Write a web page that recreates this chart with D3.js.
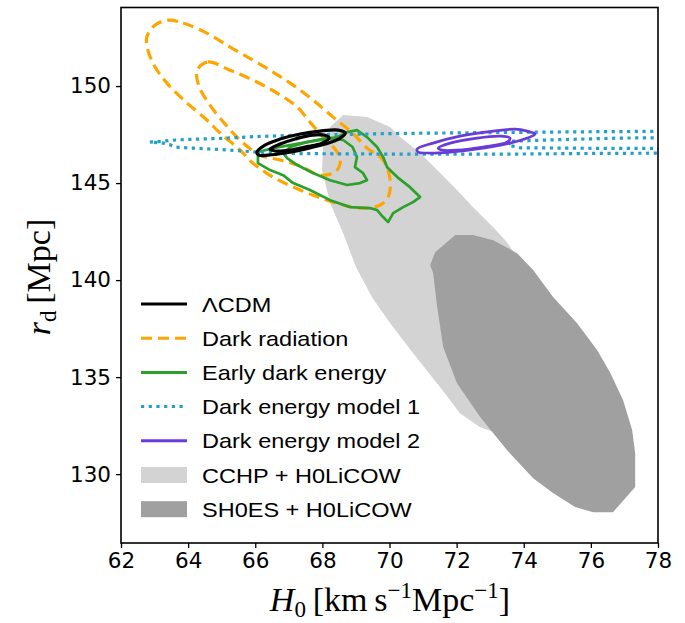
<!DOCTYPE html>
<html><head><meta charset="utf-8">
<script src="https://cdn.jsdelivr.net/npm/d3@7"></script>
<style>body{margin:0;background:#fff}</style>
</head><body>
<svg id="c" width="685" height="623" xmlns="http://www.w3.org/2000/svg"></svg>
<script>
// ---------- data (H0 [km/s/Mpc], r_d [Mpc]) ----------
const xTicks = [62,64,66,68,70,72,74,76,78];
const yTicks = [130,135,140,145,150];
const xDomain = [62,78];
const yDomain = [126.45,154.05];

const cchpH0licow = [[68.62,148.51],[69.33,148.40],[70.02,147.89],[70.32,147.37],[70.91,146.55],[71.51,145.52],[72.01,144.64],[72.49,143.76],[73.09,142.73],[73.45,142.06],[74.19,140.26],[75.08,138.45],[75.98,136.39],[76.28,134.85],[75.98,132.78],[75.08,131.75],[73.21,132.11],[72.70,132.42],[72.10,133.14],[71.51,134.48],[70.70,136.24],[70.02,137.78],[69.48,139.12],[69.00,140.67],[68.62,142.42],[68.23,143.97],[67.99,145.67],[68.02,146.86],[68.23,147.89]];
const sh0esH0licow = [[71.96,142.32],[72.49,142.32],[73.09,142.06],[73.80,141.39],[74.28,140.52],[74.88,139.12],[75.59,137.78],[76.19,136.39],[76.58,135.21],[76.96,133.81],[77.23,132.27],[77.32,131.08],[77.32,129.33],[76.66,128.04],[76.07,128.04],[75.53,128.30],[74.88,129.02],[74.28,129.79],[73.50,131.24],[72.70,132.94],[72.01,134.69],[71.60,136.55],[71.42,138.61],[71.30,140.36],[71.21,140.77],[71.36,141.44]];

const darkRadOuter = [[63.40,153.40],[63.85,153.25],[64.56,152.73],[65.25,152.01],[65.93,151.34],[66.53,150.72],[67.13,150.05],[67.72,149.28],[68.32,148.40],[68.90,147.58],[69.33,146.80],[69.81,146.19],[70.02,145.15],[69.96,144.28],[69.72,143.87],[69.33,143.71],[68.90,143.76],[68.14,144.12],[67.34,144.64],[66.53,145.31],[65.93,146.03],[65.55,146.70],[64.95,147.58],[64.56,148.25],[63.97,149.12],[63.37,150.15],[63.01,151.00],[62.80,151.86],[62.77,152.53],[63.01,153.14]];
const darkRadInner = [[64.27,150.82],[64.59,151.24],[65.25,150.82],[65.93,150.31],[66.65,149.64],[67.25,148.92],[67.63,148.14],[68.02,147.37],[68.44,146.60],[68.53,146.03],[68.38,145.57],[67.93,145.41],[67.34,145.88],[66.74,146.19],[66.14,146.44],[65.61,147.11],[65.13,147.99],[64.65,149.02],[64.32,150.00]];

const edeOuter = [[66.08,146.60],[66.08,146.03],[66.44,145.67],[66.83,145.41],[67.13,145.00],[67.63,144.64],[68.23,144.12],[68.83,143.76],[69.42,143.71],[69.63,143.61],[69.81,143.25],[69.96,142.99],[70.11,143.45],[70.41,143.76],[70.70,144.02],[70.91,144.28],[70.61,144.79],[70.23,145.31],[69.93,145.82],[69.81,146.34],[69.63,146.86],[69.33,147.37],[69.03,147.73],[68.74,147.63],[68.44,147.37],[67.54,147.11],[66.53,146.80]];
const edeInner = [[66.83,146.55],[67.04,146.86],[67.54,147.11],[68.14,147.32],[68.62,147.22],[68.90,146.86],[69.03,146.34],[68.97,145.82],[69.21,145.52],[69.33,145.15],[69.12,145.00],[68.74,144.90],[68.23,145.15],[67.72,145.52],[67.25,145.93],[66.95,146.29]];

const de1Outer = [[62.86,147.11],[63.25,147.16],[63.61,147.22],[63.97,147.25],[64.95,147.30],[65.93,147.39],[67.34,147.47],[70.32,147.56],[73.30,147.61],[76.28,147.65],[79.26,147.68],[79.26,146.55],[76.28,146.53],[73.30,146.49],[70.32,146.49],[67.34,146.52],[66.05,146.60],[64.95,146.73],[63.97,146.82],[63.61,146.86],[63.46,146.98],[63.25,147.06]];
const de1Inner = [[73.65,147.16],[75.08,147.24],[76.87,147.32],[79.26,147.35],[79.26,146.79],[76.28,146.79],[73.89,146.82],[73.53,146.96]];

const de2Outer = [[70.82,146.75],[71.30,147.06],[72.10,147.42],[73.09,147.68],[73.74,147.78],[74.10,147.68],[74.34,147.53],[74.10,147.32],[73.59,147.06],[72.79,146.80],[71.81,146.60],[71.12,146.55],[70.85,146.60]];
const de2Inner = [[71.45,146.80],[71.81,147.06],[72.61,147.32],[73.30,147.42],[73.59,147.32],[73.50,147.11],[72.79,146.86],[72.01,146.70],[71.57,146.70]];

const lcdmOuter = [[66.05,146.60],[66.29,146.96],[66.74,147.27],[67.34,147.53],[67.93,147.68],[68.47,147.73],[68.68,147.58],[68.53,147.32],[68.08,147.01],[67.48,146.75],[66.89,146.55],[66.38,146.44],[66.11,146.44]];
const lcdmInner = [[66.44,146.75],[66.74,147.01],[67.19,147.27],[67.69,147.47],[68.08,147.47],[68.20,147.32],[67.99,147.06],[67.48,146.86],[67.04,146.70],[66.62,146.65]];

const legendLabels = ["\u039BCDM","Dark radiation","Early dark energy","Dark energy model 1","Dark energy model 2","CCHP + H0LiCOW","SH0ES + H0LiCOW"];
const colors = {lcdm:"#000000", dr:"#ffa500", ede:"#2ca02c", de1:"#22a0cc", de2:"#6a3bd8", cchp:"#d3d3d3", shoes:"#a0a0a0"};

// ---------- drawing ----------
const svg = d3.select("#c");
const L=121, R=658, T=7.5, B=543;
const x = d3.scaleLinear().domain(xDomain).range([L,R]);
const y = d3.scaleLinear().domain(yDomain).range([B,T]);

svg.append("defs").append("clipPath").attr("id","clip")
  .append("rect").attr("x",L).attr("y",T).attr("width",R-L).attr("height",B-T);
const g = svg.append("g").attr("clip-path","url(#clip)");

const lin = d3.line().x(d=>x(d[0])).y(d=>y(d[1])).curve(d3.curveLinearClosed);
const smooth = d3.line().x(d=>x(d[0])).y(d=>y(d[1])).curve(d3.curveCatmullRomClosed.alpha(0.5));

g.append("path").attr("d",lin(cchpH0licow)).attr("fill",colors.cchp);
g.append("path").attr("d",lin(sh0esH0licow)).attr("fill",colors.shoes);

function contour(data, color, dash, width, gen){
  g.append("path").attr("d",(gen||smooth)(data)).attr("fill","none")
   .attr("stroke",color).attr("stroke-width",width)
   .attr("stroke-dasharray",dash||null).attr("stroke-linejoin","round");
}
contour(darkRadOuter, colors.dr, "11,6", 3.2);
contour(darkRadInner, colors.dr, "11,6", 3.2);
contour(edeOuter, colors.ede, null, 2.7, lin);
contour(edeInner, colors.ede, null, 2.7, lin);
contour(de1Outer, colors.de1, "3.2,4.5", 3.2, lin);
contour(de1Inner, colors.de1, "3.2,4.5", 3.2, lin);
contour(de2Outer, colors.de2, null, 2.7);
contour(de2Inner, colors.de2, null, 2.7);
contour(lcdmOuter, colors.lcdm, null, 3.2);
contour(lcdmInner, colors.lcdm, null, 3.2);

// frame
svg.append("rect").attr("x",L).attr("y",T).attr("width",R-L).attr("height",B-T)
  .attr("fill","none").attr("stroke","#000").attr("stroke-width",1.6);

// axes
const fontTick = "'DejaVu Sans', sans-serif";
const xa = svg.append("g").attr("transform",`translate(0,${B})`)
  .call(d3.axisBottom(x).tickValues(xTicks).tickSize(5).tickPadding(5).tickFormat(d3.format("d")));
const ya = svg.append("g").attr("transform",`translate(${L},0)`)
  .call(d3.axisLeft(y).tickValues(yTicks).tickSize(5).tickPadding(5).tickFormat(d3.format("d")));
[xa,ya].forEach(a=>{
  a.select(".domain").remove();
  a.selectAll(".tick line").attr("stroke","#000").attr("stroke-width",1.3);
  a.selectAll(".tick text").attr("font-family",fontTick).attr("font-size",21.5).attr("fill","#000");
});

// axis labels
const xl = svg.append("text").attr("x",390).attr("y",611).attr("text-anchor","middle")
  .attr("font-family","'Liberation Serif',serif").attr("font-size",34).attr("fill","#000");
xl.append("tspan").attr("font-style","italic").text("H");
xl.append("tspan").attr("font-size",23).attr("dy",6).text("0");
xl.append("tspan").attr("dy",-6).text("\u2009[km\u2009s");
xl.append("tspan").attr("font-size",23).attr("dy",-13).text("\u22121");
xl.append("tspan").attr("dy",13).text("Mpc");
xl.append("tspan").attr("font-size",23).attr("dy",-13).text("\u22121");
xl.append("tspan").attr("dy",13).text("]");

const yl = svg.append("text").attr("transform","translate(50,277) rotate(-90)").attr("text-anchor","middle")
  .attr("font-family","'Liberation Serif',serif").attr("font-size",34).attr("fill","#000");
yl.append("tspan").attr("font-style","italic").text("r");
yl.append("tspan").attr("font-size",23).attr("dy",6).text("d");
yl.append("tspan").attr("dy",-6).text("\u2009[Mpc]");

// legend
const leg = svg.append("g");
const rowY0 = 304, rowDy = 34.2;
const handles = [
  {type:"line", color:colors.lcdm, dash:null},
  {type:"line", color:colors.dr, dash:"11,6"},
  {type:"line", color:colors.ede, dash:null},
  {type:"line", color:colors.de1, dash:"3.2,4.5"},
  {type:"line", color:colors.de2, dash:null},
  {type:"patch", color:colors.cchp},
  {type:"patch", color:colors.shoes}
];
legendLabels.forEach((lab,i)=>{
  const cy = rowY0 + i*rowDy;
  const h = handles[i];
  if(h.type==="line"){
    leg.append("line").attr("x1",141).attr("x2",187).attr("y1",cy).attr("y2",cy)
      .attr("stroke",h.color).attr("stroke-width",3).attr("stroke-dasharray",h.dash);
  } else {
    leg.append("rect").attr("x",141).attr("y",cy-8).attr("width",46).attr("height",16).attr("fill",h.color);
  }
  leg.append("text").attr("transform",`translate(202,${cy+7.5}) scale(1.12,1)`)
    .attr("font-family","'Liberation Sans',Arial,sans-serif").attr("font-size",21).attr("fill","#000").text(lab);
});
</script>
</body></html>
